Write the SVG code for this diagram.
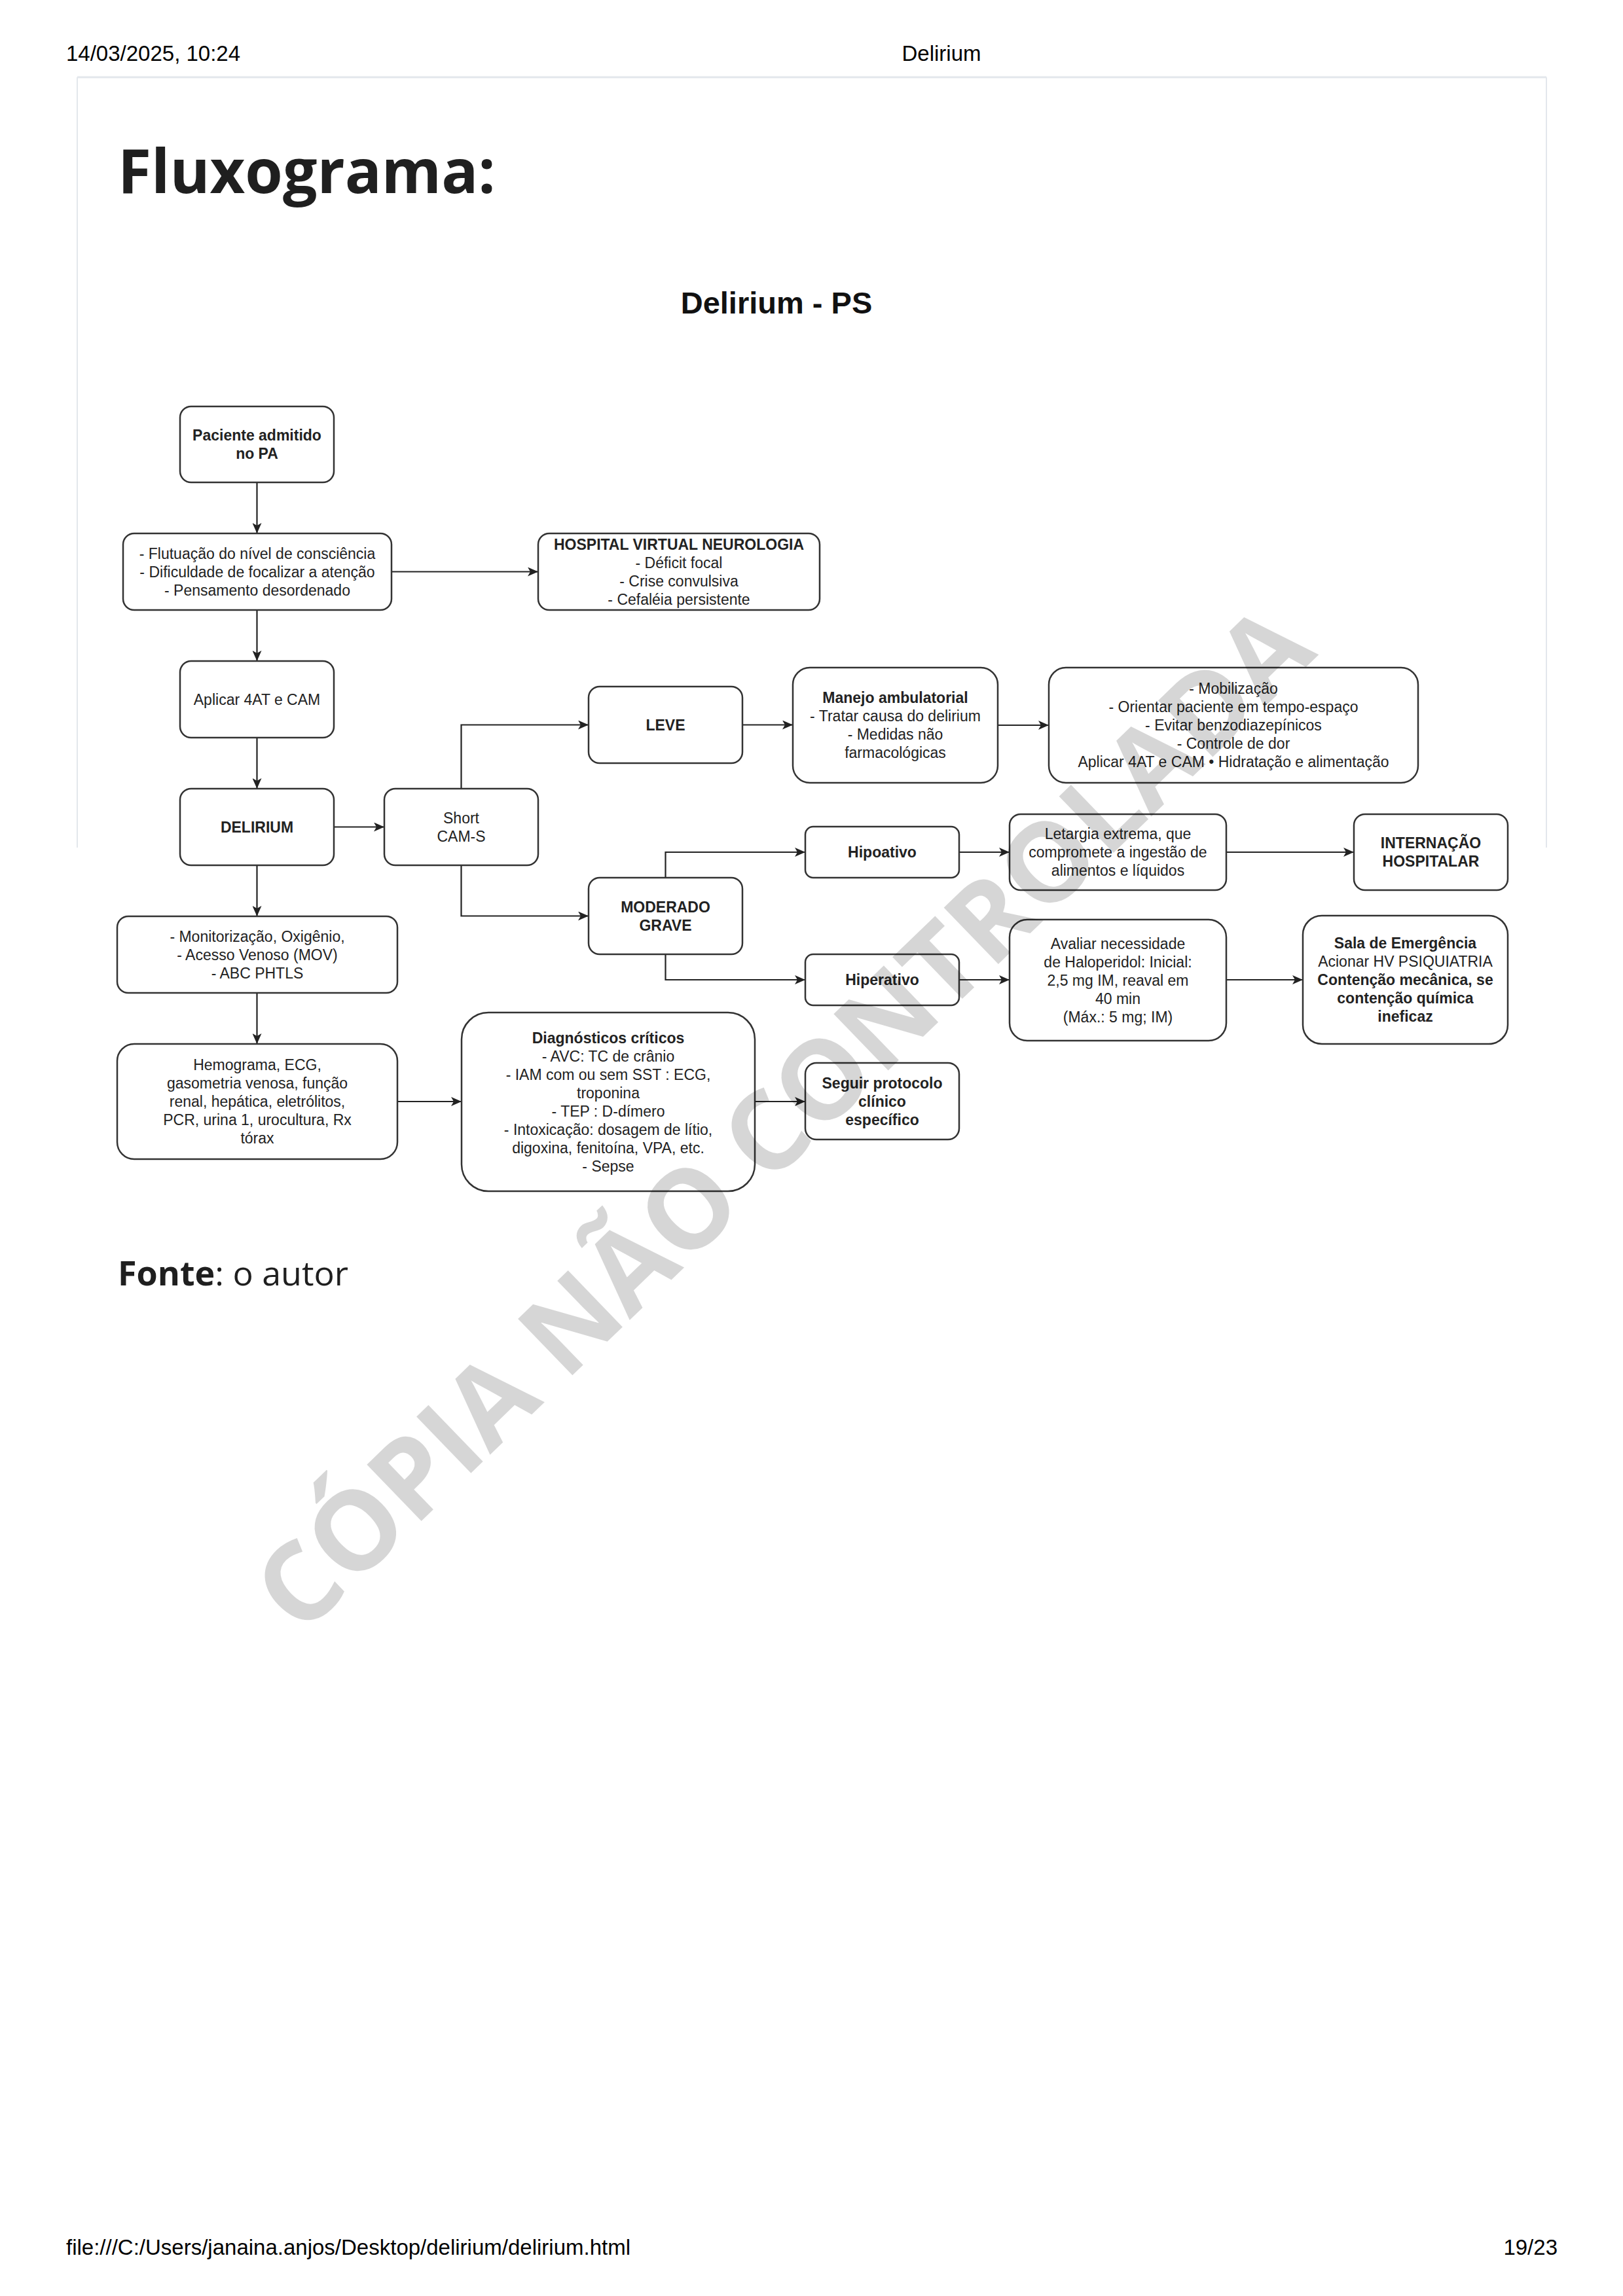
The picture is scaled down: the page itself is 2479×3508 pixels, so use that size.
<svg xmlns="http://www.w3.org/2000/svg" width="2479" height="3508" viewBox="0 0 2479 3508">
<defs>
<style>
.hdr{font-family:"Liberation Sans",Arial,sans-serif;font-size:33px;fill:#000}
.box{fill:#fff;stroke:#333;stroke-width:2.5}
.t{font-family:"Liberation Sans",Arial,sans-serif;font-size:23px;fill:#222;text-anchor:middle}
.b{font-weight:bold}
.con{fill:none;stroke:#222;stroke-width:2.2}
.frame{stroke:#e3e7ec;fill:none}
</style>
<marker id="arr" markerUnits="userSpaceOnUse" markerWidth="16" markerHeight="14" viewBox="0 0 16 14" refX="16" refY="7" orient="auto">
<path d="M0,0 L16,7 L0,14 L4,7 z" fill="#222"/>
</marker>
</defs>
<rect x="0" y="0" width="2479" height="3508" fill="#fff"/>
<text class="hdr" x="101" y="93">14/03/2025, 10:24</text>
<text class="hdr" x="1438" y="93" text-anchor="middle">Delirium</text>
<line class="frame" x1="118" y1="118" x2="2362" y2="118" stroke-width="3"/>
<line class="frame" x1="118" y1="118" x2="118" y2="1295" stroke-width="2"/>
<line class="frame" x1="2362" y1="118" x2="2362" y2="1295" stroke-width="2"/>
<text x="180" y="295" font-family="'Open Sans','Noto Sans',sans-serif" font-weight="bold" font-size="93" fill="#1f1f1f">Fluxograma:</text>
<text x="1186" y="479" font-family="'Liberation Sans',Arial,sans-serif" font-weight="bold" font-size="47" fill="#111" text-anchor="middle">Delirium - PS</text>

<g id="connectors">
<path class="con" marker-end="url(#arr)" d="M392.5,737 L392.5,815"/>
<path class="con" marker-end="url(#arr)" d="M598,873.5 L822,873.5"/>
<path class="con" marker-end="url(#arr)" d="M392.5,932 L392.5,1010"/>
<path class="con" marker-end="url(#arr)" d="M392.5,1127 L392.5,1205"/>
<path class="con" marker-end="url(#arr)" d="M510,1263.5 L587,1263.5"/>
<path class="con" marker-end="url(#arr)" d="M392.5,1322 L392.5,1400"/>
<path class="con" marker-end="url(#arr)" d="M392.5,1517 L392.5,1595"/>
<path class="con" marker-end="url(#arr)" d="M704.5,1205 L704.5,1107.5 L899,1107.5"/>
<path class="con" marker-end="url(#arr)" d="M704.5,1322 L704.5,1399.5 L899,1399.5"/>
<path class="con" marker-end="url(#arr)" d="M1134,1107.5 L1211,1107.5"/>
<path class="con" marker-end="url(#arr)" d="M1524,1108 L1602,1108"/>
<path class="con" marker-end="url(#arr)" d="M1016.5,1341 L1016.5,1302 L1230,1302"/>
<path class="con" marker-end="url(#arr)" d="M1016.5,1458 L1016.5,1497 L1230,1497"/>
<path class="con" marker-end="url(#arr)" d="M1465,1302 L1542,1302"/>
<path class="con" marker-end="url(#arr)" d="M1873,1302 L2068,1302"/>
<path class="con" marker-end="url(#arr)" d="M1465,1497 L1542,1497"/>
<path class="con" marker-end="url(#arr)" d="M1873,1497 L1990,1497"/>
<path class="con" marker-end="url(#arr)" d="M607,1683 L705,1683"/>
<path class="con" marker-end="url(#arr)" d="M1153,1683 L1230,1683"/>
</g>

<g id="paciente">
<rect class="box" x="275" y="621" width="235" height="116" rx="17"/>
<text class="t b" x="392.5" y="673">Paciente admitido</text>
<text class="t b" x="392.5" y="701">no PA</text>
</g>
<g id="sintomas">
<rect class="box" x="188" y="815" width="410" height="117" rx="17"/>
<text class="t" x="393" y="853.5">- Flutuação do nível de consciência</text>
<text class="t" x="393" y="881.5">- Dificuldade de focalizar a atenção</text>
<text class="t" x="393" y="909.5">- Pensamento desordenado</text>
</g>
<g id="hv-neuro">
<rect class="box" x="822" y="815" width="430" height="117" rx="17"/>
<text class="t b" x="1037" y="839.5">HOSPITAL VIRTUAL NEUROLOGIA</text>
<text class="t" x="1037" y="867.5">- Déficit focal</text>
<text class="t" x="1037" y="895.5">- Crise convulsiva</text>
<text class="t" x="1037" y="923.5">- Cefaléia persistente</text>
</g>
<g id="aplicar">
<rect class="box" x="275" y="1010" width="235" height="117" rx="17"/>
<text class="t" x="392.5" y="1076.5">Aplicar 4AT e CAM</text>
</g>
<g id="delirium">
<rect class="box" x="275" y="1205" width="235" height="117" rx="17"/>
<text class="t b" x="392.5" y="1271.5">DELIRIUM</text>
</g>
<g id="short-cams">
<rect class="box" x="587" y="1205" width="235" height="117" rx="17"/>
<text class="t" x="704.5" y="1257.5">Short</text>
<text class="t" x="704.5" y="1285.5">CAM-S</text>
</g>
<g id="leve">
<rect class="box" x="899" y="1049" width="235" height="117" rx="17"/>
<text class="t b" x="1016.5" y="1115.5">LEVE</text>
</g>
<g id="manejo">
<rect class="box" x="1211" y="1020" width="313" height="176" rx="26"/>
<text class="t b" x="1367.5" y="1074">Manejo ambulatorial</text>
<text class="t" x="1367.5" y="1102">- Tratar causa do delirium</text>
<text class="t" x="1367.5" y="1130">- Medidas não</text>
<text class="t" x="1367.5" y="1158">farmacológicas</text>
</g>
<g id="medidas">
<rect class="box" x="1602" y="1020" width="564" height="176" rx="26"/>
<text class="t" x="1884" y="1060">- Mobilização</text>
<text class="t" x="1884" y="1088">- Orientar paciente em tempo-espaço</text>
<text class="t" x="1884" y="1116">- Evitar benzodiazepínicos</text>
<text class="t" x="1884" y="1144">- Controle de dor</text>
<text class="t" x="1884" y="1172">Aplicar 4AT e CAM • Hidratação e alimentação</text>
</g>
<g id="moderado">
<rect class="box" x="899" y="1341" width="235" height="117" rx="17"/>
<text class="t b" x="1016.5" y="1393.5">MODERADO</text>
<text class="t b" x="1016.5" y="1421.5">GRAVE</text>
</g>
<g id="hipoativo">
<rect class="box" x="1230" y="1263" width="235" height="78" rx="12"/>
<text class="t b" x="1347.5" y="1310">Hipoativo</text>
</g>
<g id="letargia">
<rect class="box" x="1542" y="1244" width="331" height="116" rx="17"/>
<text class="t" x="1707.5" y="1282">Letargia extrema, que</text>
<text class="t" x="1707.5" y="1310">compromete a ingestão de</text>
<text class="t" x="1707.5" y="1338">alimentos e líquidos</text>
</g>
<g id="internacao">
<rect class="box" x="2068" y="1244" width="235" height="116" rx="17"/>
<text class="t b" x="2185.5" y="1296">INTERNAÇÃO</text>
<text class="t b" x="2185.5" y="1324">HOSPITALAR</text>
</g>
<g id="hiperativo">
<rect class="box" x="1230" y="1458" width="235" height="78" rx="12"/>
<text class="t b" x="1347.5" y="1505">Hiperativo</text>
</g>
<g id="haloperidol">
<rect class="box" x="1542" y="1405" width="331" height="185" rx="27"/>
<text class="t" x="1707.5" y="1449.5">Avaliar necessidade</text>
<text class="t" x="1707.5" y="1477.5">de Haloperidol: Inicial:</text>
<text class="t" x="1707.5" y="1505.5">2,5 mg IM, reaval em</text>
<text class="t" x="1707.5" y="1533.5">40 min</text>
<text class="t" x="1707.5" y="1561.5">(Máx.: 5 mg; IM)</text>
</g>
<g id="sala-emergencia">
<rect class="box" x="1990" y="1399" width="313" height="196" rx="29"/>
<text class="t b" x="2146.5" y="1449">Sala de Emergência</text>
<text class="t" x="2146.5" y="1477">Acionar HV PSIQUIATRIA</text>
<text class="t b" x="2146.5" y="1505">Contenção mecânica, se</text>
<text class="t b" x="2146.5" y="1533">contenção química</text>
<text class="t b" x="2146.5" y="1561">ineficaz</text>
</g>
<g id="monitorizacao">
<rect class="box" x="179" y="1400" width="428" height="117" rx="17"/>
<text class="t" x="393" y="1438.5">- Monitorização, Oxigênio,</text>
<text class="t" x="393" y="1466.5">- Acesso Venoso (MOV)</text>
<text class="t" x="393" y="1494.5">- ABC PHTLS</text>
</g>
<g id="exames">
<rect class="box" x="179" y="1595" width="428" height="176" rx="26"/>
<text class="t" x="393" y="1635">Hemograma, ECG,</text>
<text class="t" x="393" y="1663">gasometria venosa, função</text>
<text class="t" x="393" y="1691">renal, hepática, eletrólitos,</text>
<text class="t" x="393" y="1719">PCR, urina 1, urocultura, Rx</text>
<text class="t" x="393" y="1747">tórax</text>
</g>
<g id="diagnosticos">
<rect class="box" x="705" y="1547" width="448" height="273" rx="41"/>
<text class="t b" x="929" y="1593.5">Diagnósticos críticos</text>
<text class="t" x="929" y="1621.5">- AVC: TC de crânio</text>
<text class="t" x="929" y="1649.5">- IAM com ou sem SST : ECG,</text>
<text class="t" x="929" y="1677.5">troponina</text>
<text class="t" x="929" y="1705.5">- TEP : D-dímero</text>
<text class="t" x="929" y="1733.5">- Intoxicação: dosagem de lítio,</text>
<text class="t" x="929" y="1761.5">digoxina, fenitoína, VPA, etc.</text>
<text class="t" x="929" y="1789.5">- Sepse</text>
</g>
<g id="protocolo">
<rect class="box" x="1230" y="1624" width="235" height="117" rx="17"/>
<text class="t b" x="1347.5" y="1662.5">Seguir protocolo</text>
<text class="t b" x="1347.5" y="1690.5">clínico</text>
<text class="t b" x="1347.5" y="1718.5">específico</text>
</g>

<text x="180" y="1964" font-family="'Open Sans','Noto Sans',sans-serif" font-size="52" fill="#1f1f1f"><tspan font-weight="bold">Fonte</tspan>: o autor</text>

<text x="1237" y="1751" transform="rotate(-44 1237 1751)" text-anchor="middle" font-family="'Open Sans','Noto Sans',sans-serif" font-weight="bold" font-size="168" fill="#000" fill-opacity="0.16">CÓPIA NÃO CONTROLADA</text>

<text class="hdr" x="101" y="3445">file:///C:/Users/janaina.anjos/Desktop/delirium/delirium.html</text>
<text class="hdr" x="2379" y="3445" text-anchor="end">19/23</text>
</svg>
